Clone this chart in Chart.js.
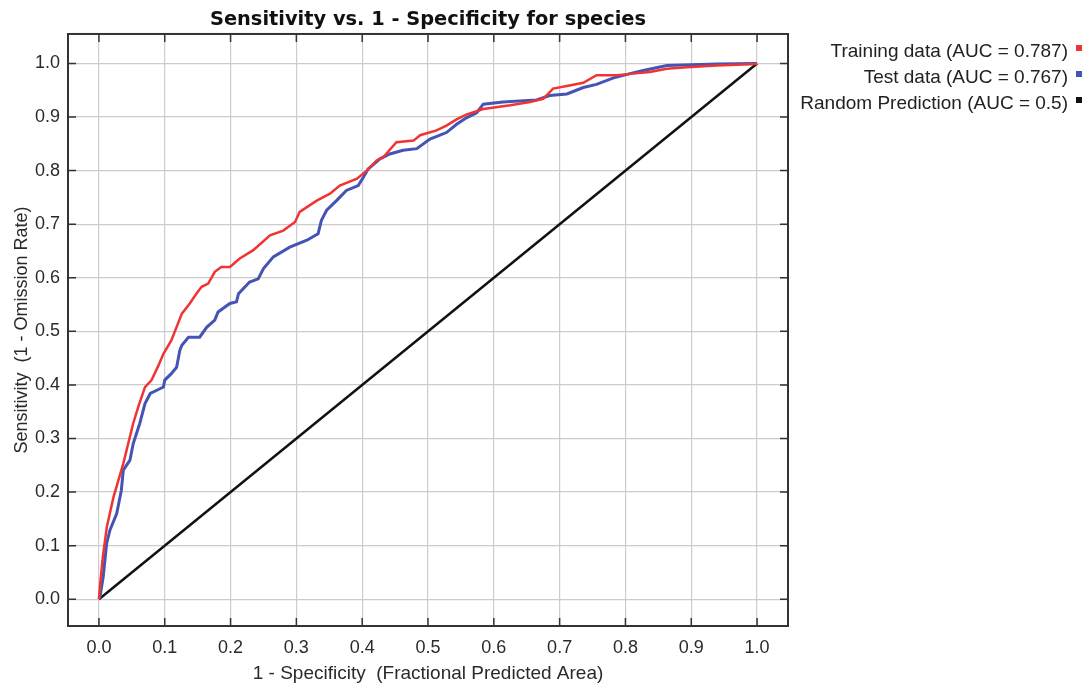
<!DOCTYPE html>
<html>
<head>
<meta charset="utf-8">
<script src="https://cdn.jsdelivr.net/npm/chart.js@4.4.1/dist/chart.umd.min.js"></script>
<style>
  html, body { margin:0; padding:0; background:#fff; }
  #wrap { position:relative; width:1090px; height:685px; }
  #legend { position:absolute; left:740px; top:38px; width:350px; font:19px "Liberation Sans", Arial, sans-serif; color:#222; }
  #legend .row { height:26px; line-height:26px; text-align:right; padding-right:8px; white-space:nowrap; }
  #legend .sw { display:inline-block; width:6px; height:6px; margin-left:8px; vertical-align:middle; position:relative; top:-4px; }
</style>
</head>
<body>
<div id="wrap">
  <canvas id="roc" width="1090" height="685"></canvas>
  <div id="legend"></div>
</div>
<script>
// ROC curves (x = 1 - specificity, y = sensitivity)
const trainX = [0, 0.002, 0.006, 0.012, 0.022, 0.037, 0.052, 0.060, 0.070, 0.080, 0.090, 0.098, 0.110, 0.126, 0.138, 0.148, 0.156, 0.166, 0.176, 0.186, 0.199, 0.214, 0.234, 0.260, 0.280, 0.298, 0.305, 0.331, 0.351, 0.366, 0.392, 0.407, 0.422, 0.432, 0.452, 0.478, 0.488, 0.513, 0.528, 0.544, 0.559, 0.584, 0.625, 0.655, 0.675, 0.690, 0.711, 0.736, 0.756, 0.787, 0.812, 0.837, 0.863, 0.893, 0.939, 0.997, 1];
const trainY = [0, 0.030, 0.080, 0.135, 0.190, 0.253, 0.328, 0.360, 0.396, 0.409, 0.435, 0.458, 0.483, 0.533, 0.552, 0.570, 0.583, 0.589, 0.611, 0.620, 0.620, 0.636, 0.651, 0.679, 0.688, 0.704, 0.723, 0.744, 0.757, 0.772, 0.785, 0.800, 0.819, 0.825, 0.853, 0.856, 0.866, 0.875, 0.884, 0.896, 0.905, 0.915, 0.922, 0.928, 0.934, 0.953, 0.958, 0.964, 0.978, 0.978, 0.981, 0.984, 0.990, 0.993, 0.996, 0.999, 1];

const testX = [0, 0.0015, 0.0065, 0.0117, 0.0167, 0.027, 0.034, 0.037, 0.047, 0.052, 0.062, 0.070, 0.078, 0.088, 0.098, 0.100, 0.110, 0.118, 0.123, 0.126, 0.136, 0.153, 0.164, 0.176, 0.181, 0.199, 0.209, 0.212, 0.229, 0.242, 0.250, 0.265, 0.290, 0.316, 0.333, 0.338, 0.346, 0.361, 0.376, 0.394, 0.402, 0.409, 0.427, 0.442, 0.462, 0.483, 0.503, 0.528, 0.544, 0.559, 0.574, 0.584, 0.614, 0.665, 0.685, 0.711, 0.736, 0.756, 0.782, 0.807, 0.827, 0.863, 0.939, 1];
const testY = [0, 0.004, 0.042, 0.104, 0.129, 0.160, 0.203, 0.241, 0.259, 0.290, 0.328, 0.365, 0.384, 0.390, 0.396, 0.409, 0.421, 0.433, 0.465, 0.474, 0.489, 0.489, 0.508, 0.521, 0.536, 0.552, 0.555, 0.570, 0.592, 0.598, 0.617, 0.639, 0.657, 0.670, 0.682, 0.707, 0.726, 0.744, 0.763, 0.772, 0.788, 0.803, 0.822, 0.831, 0.838, 0.841, 0.859, 0.871, 0.887, 0.899, 0.908, 0.924, 0.928, 0.932, 0.940, 0.943, 0.955, 0.961, 0.973, 0.981, 0.987, 0.996, 0.999, 1];

const randX = [0, 1];
const randY = [0, 1];

const seriesNames = ['Training data (AUC = 0.787)', 'Test data (AUC = 0.767)', 'Random Prediction (AUC = 0.5)'];
const seriesColors = ['#f03434', '#4454b4', '#111111'];
const tickVals = [0, 0.1, 0.2, 0.3, 0.4, 0.5, 0.6, 0.7, 0.8, 0.9, 1.0];

const pts = (xs, ys) => xs.map((x, i) => ({x, y: ys[i]}));
const FONT = '"Liberation Sans", Arial, sans-serif';

// frame round the plot plus inward tick marks on all four sides
const framePlugin = {
  id: 'frame',
  afterDraw(chart){
    const {ctx, chartArea: a, scales} = chart;
    const t = 8;
    ctx.save();
    ctx.strokeStyle = '#333';
    ctx.lineWidth = 1.5;
    ctx.beginPath();
    for(const v of tickVals){
      const px = scales.x.getPixelForValue(v);
      ctx.moveTo(px, a.bottom); ctx.lineTo(px, a.bottom - t);
      ctx.moveTo(px, a.top); ctx.lineTo(px, a.top + t);
      const py = scales.y.getPixelForValue(v);
      ctx.moveTo(a.left, py); ctx.lineTo(a.left + t, py);
      ctx.moveTo(a.right, py); ctx.lineTo(a.right - t, py);
    }
    ctx.stroke();
    ctx.lineWidth = 2;
    ctx.strokeRect(a.left, a.top, a.right - a.left, a.bottom - a.top);
    ctx.restore();
  }
};

const fixedTicks = scale => { scale.ticks = tickVals.map(v => ({value: v})); };

new Chart(document.getElementById('roc'), {
  type: 'scatter',
  data: {
    datasets: [
      {label: seriesNames[2], data: pts(randX, randY), borderColor: seriesColors[2], borderWidth: 2.5, order: 3},
      {label: seriesNames[1], data: pts(testX, testY), borderColor: seriesColors[1], borderWidth: 3, order: 2},
      {label: seriesNames[0], data: pts(trainX, trainY), borderColor: seriesColors[0], borderWidth: 2.5, order: 1}
    ].map(d => Object.assign(d, {showLine: true, pointRadius: 0, fill: false, tension: 0}))
  },
  options: {
    responsive: false,
    animation: false,
    layout: {padding: {left: 0, right: 302, top: 0, bottom: 0}},
    plugins: {
      legend: {display: false},
      tooltip: {enabled: false},
      title: {
        display: true,
        fullSize: false,
        text: 'Sensitivity vs. 1 - Specificity for species',
        color: '#111',
        font: {family: '"DejaVu Sans", Verdana, sans-serif', size: 19.4, weight: 'bold', lineHeight: 1.2},
        padding: {top: 8.5, bottom: 2.2}
      }
    },
    scales: {
      x: {
        type: 'linear', min: -0.047, max: 1.047,
        afterBuildTicks: fixedTicks,
        afterFit(s){ s.height = 59; },
        grid: {color: '#cccccc', lineWidth: 1.2, drawTicks: false},
        border: {display: false},
        ticks: {padding: 11, color: '#2a2a2a', font: {family: FONT, size: 18}, callback: v => v.toFixed(1)},
        title: {display: true, text: '1 - Specificity  (Fractional Predicted Area)', color: '#2a2a2a', font: {family: FONT, size: 19}, padding: {top: 0, bottom: 0}}
      },
      y: {
        type: 'linear', min: -0.05, max: 1.055,
        afterBuildTicks: fixedTicks,
        afterFit(s){ s.width = 68; },
        grid: {color: '#cccccc', lineWidth: 1.2, drawTicks: false},
        border: {display: false},
        ticks: {padding: 8, color: '#2a2a2a', font: {family: FONT, size: 18}, callback: v => v.toFixed(1)},
        title: {display: true, text: 'Sensitivity  (1 - Omission Rate)', color: '#2a2a2a', font: {family: FONT, size: 18}, padding: {top: 11, bottom: 0}}
      }
    }
  },
  plugins: [framePlugin]
});

// legend: right-aligned labels with the colour square after the text
const legend = document.getElementById('legend');
seriesNames.forEach((name, i) => {
  const row = document.createElement('div');
  row.className = 'row';
  row.appendChild(document.createTextNode(name));
  const sw = document.createElement('span');
  sw.className = 'sw';
  sw.style.background = seriesColors[i];
  row.appendChild(sw);
  legend.appendChild(row);
});
</script>
</body>
</html>
